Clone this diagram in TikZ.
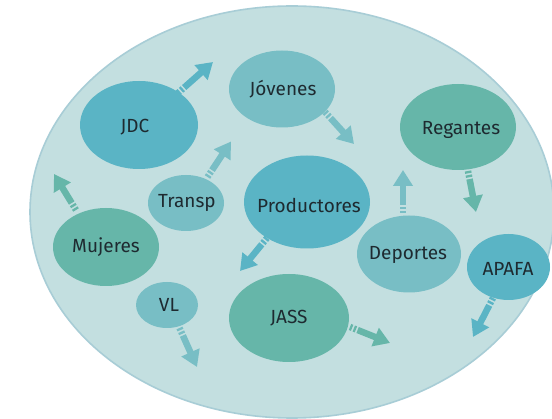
\documentclass[tikz,border=0pt]{standalone}
\usepackage{fontspec}
\setmainfont{Fira Sans}
\usetikzlibrary{arrows.meta,shapes.geometric}
\definecolor{cBlue}{HTML}{5AB4C5}
\definecolor{cLight}{HTML}{78BEC5}
\definecolor{cGreen}{HTML}{66B6A9}
\definecolor{cBg}{HTML}{C3DFE0}
\definecolor{cBorder}{HTML}{A8CDD6}
\definecolor{cText}{HTML}{1E2A30}
\begin{document}
\begin{tikzpicture}[x=1pt,y=-1pt,
  blob/.style={ellipse, inner sep=0pt},
  blobtext/.style={text=cText, font=\fontsize{19}{22}\selectfont, inner sep=0pt},
  blockarrow/.style={line width=6.5pt, dash pattern=on 2.3pt off 1.8pt on 2.3pt off 1.8pt on 300pt off 1pt,
    -{Triangle[width=19pt,length=16pt]}}
]
\useasboundingbox (0,0) rectangle (552,419);
\clip (0,0) rectangle (552,419);
\fill[white] (0,0) rectangle (552,419);
\draw[fill=cBg, draw=cBorder, line width=1.6pt] (292,212) ellipse [x radius=262, y radius=206];

\node[blob, fill=cBlue, minimum width=118pt, minimum height=88pt] (jdc) at (139,125) {};
\node[blob, fill=cLight, minimum width=106pt, minimum height=77pt] (jov) at (282,89) {};
\node[blob, fill=cGreen, minimum width=116pt, minimum height=86pt] (reg) at (458,127) {};
\node[blob, fill=cLight, minimum width=76pt, minimum height=56pt] (tra) at (186,203) {};
\node[blob, fill=cBlue, minimum width=126pt, minimum height=93pt] (pro) at (307,202) {};
\node[blob, fill=cGreen, minimum width=106pt, minimum height=78pt] (muj) at (106,247) {};
\node[blob, fill=cLight, minimum width=104pt, minimum height=77pt] (dep) at (409,254) {};
\node[blob, fill=cBlue, minimum width=83pt, minimum height=66pt] (apa) at (508.5,267) {};
\node[blob, fill=cLight, minimum width=62pt, minimum height=46pt] (vl) at (167,305) {};
\node[blob, fill=cGreen, minimum width=120pt, minimum height=88pt] (jass) at (289,318) {};

\node[blobtext] (tjdc) at (135,127) {JDC};
\node[blobtext] (tjov) at (283,89) {Jóvenes};
\node[blobtext] (treg) at (461,130) {Regantes};
\node[blobtext] (ttra) at (187,203) {Transp};
\node[blobtext] (tpro) at (309,205) {Productores};
\node[blobtext] (tmuj) at (106,247) {Mujeres};
\node[blobtext] (tdep) at (408,255) {Deportes};
\node[blobtext] (tapa) at (508,269) {APAFA};
\node[blobtext] (tvl) at (169,305) {VL};
\node[blobtext] (tjass) at (289,318) {JASS};

\coordinate (a1s) at (178,93);   \coordinate (a1e) at (213,62);
\coordinate (a2s) at (325,112);  \coordinate (a2e) at (354,144);
\coordinate (a3s) at (76,210);   \coordinate (a3e) at (54,174);
\coordinate (a4s) at (207.5,177); \coordinate (a4e) at (231,141.5);
\coordinate (a5s) at (267,238);  \coordinate (a5e) at (240,271);
\coordinate (a6s) at (403,213);  \coordinate (a6e) at (403,170);
\coordinate (a7s) at (468,171);  \coordinate (a7e) at (476,212);
\coordinate (a8s) at (493,298);  \coordinate (a8e) at (473,337);
\coordinate (a9s) at (179.5,328); \coordinate (a9e) at (197,367);
\coordinate (a10s) at (350,327); \coordinate (a10e) at (390,343);

\draw[blockarrow, cBlue] (a1s) -- (a1e);
\draw[blockarrow, cLight] (a2s) -- (a2e);
\draw[blockarrow, cGreen] (a3s) -- (a3e);
\draw[blockarrow, cLight] (a4s) -- (a4e);
\draw[blockarrow, cBlue] (a5s) -- (a5e);
\draw[blockarrow, cLight] (a6s) -- (a6e);
\draw[blockarrow, cGreen] (a7s) -- (a7e);
\draw[blockarrow, cBlue] (a8s) -- (a8e);
\draw[blockarrow, cLight] (a9s) -- (a9e);
\draw[blockarrow, cGreen] (a10s) -- (a10e);
\end{tikzpicture}
\end{document}
